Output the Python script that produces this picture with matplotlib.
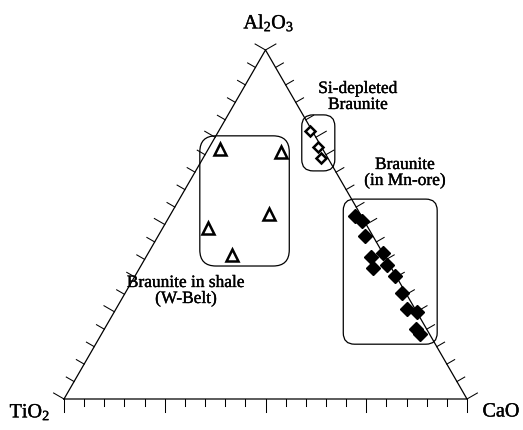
import numpy as np
import matplotlib
matplotlib.use("Agg")
import matplotlib.pyplot as plt
import matplotlib.patheffects as pe
from matplotlib.patches import FancyBboxPatch

plt.rcParams["font.family"] = ["Liberation Serif", "DejaVu Serif"]
plt.rcParams["mathtext.fontset"] = "custom"
plt.rcParams["mathtext.rm"] = "Liberation Serif"
plt.rcParams["mathtext.it"] = "Liberation Serif:italic"

# Compositions (wt% normalised): Al2O3, CaO, TiO2
shale_al2o3 = [71.6, 70.9, 53.0, 48.9, 41.3]
shale_cao = [2.9, 18.4, 24.4, 11.3, 21.0]
shale_tio2 = [25.5, 10.7, 22.6, 39.8, 37.7]

sidep_al2o3 = [76.7, 72.3, 69.0]
sidep_cao = [22.7, 27.0, 29.2]
sidep_tio2 = [0.6, 0.7, 1.8]

ore_al2o3 = [52.5, 51.1, 46.6, 40.6, 41.8, 37.4, 38.4, 35.3, 30.3, 25.8, 24.8, 20.1, 18.6]
ore_cao = [46.0, 48.3, 51.4, 55.8, 58.2, 57.9, 60.9, 64.5, 68.7, 72.3, 75.2, 77.3, 79.0]
ore_tio2 = [1.5, 0.6, 2.0, 3.6, 0.0, 4.7, 0.7, 0.2, 1.0, 1.9, 0.0, 2.6, 2.4]

apex_label = r"Al$_\mathregular{2}$O$_\mathregular{3}$"
left_label = r"TiO$_\mathregular{2}$"
right_label = "CaO"

H = np.sqrt(3) / 2


def to_xy(al, ca, ti):
    al = np.asarray(al, float)
    ca = np.asarray(ca, float)
    ti = np.asarray(ti, float)
    s = al + ca + ti
    a, c = al / s, ca / s
    return c + a / 2, a * H


fig = plt.figure(figsize=(5.23, 4.31), dpi=100)
ax = fig.add_axes([0, 0, 1, 1])
S = 403.0
ax.set_xlim(-64 / S, (523 - 64) / S)
ax.set_ylim(-(431 - 400) / S, 400 / S)
ax.axis("off")

# triangle frame
ax.plot([0, 1, 0.5, 0], [0, 0, H, 0], color="black", lw=0.9, solid_joinstyle="miter")

# ticks every 5 %, longer every 25 %
px = 1 / S
for i in range(21):
    t = i * 0.05
    long = (i % 5 == 0)
    # bottom edge, pointing down
    lb = (13 if long else 7) * px
    ax.plot([t, t], [0, -lb], color="black", lw=0.75)
    le = (12 if long else 9) * px
    # left edge, outward normal
    p = np.array([t / 2, t * H])
    d = np.array([-H, 0.5])
    q = p + d * le
    ax.plot([p[0], q[0]], [p[1], q[1]], color="black", lw=0.75)
    # right edge, outward normal
    p = np.array([1 - t / 2, t * H])
    d = np.array([H, 0.5])
    q = p + d * le
    ax.plot([p[0], q[0]], [p[1], q[1]], color="black", lw=0.75)

# group outlines
def rbox(x0, y0, x1, y1, r):
    ax.add_patch(FancyBboxPatch((x0 + r, y0 + r), x1 - x0 - 2 * r, y1 - y0 - 2 * r,
                                boxstyle=f"round,pad={r}", fc="none", ec="black", lw=0.9))

rbox(0.337, 0.330, 0.559, 0.653, 0.04)
rbox(0.590, 0.566, 0.672, 0.705, 0.028)
rbox(0.693, 0.136, 0.926, 0.496, 0.028)

# data
x, y = to_xy(shale_al2o3, shale_cao, shale_tio2)
ax.plot(x, y, ls="none", marker="^", ms=8.8, mfc="white", mec="black", mew=1.8, zorder=5)
x, y = to_xy(sidep_al2o3, sidep_cao, sidep_tio2)
ax.plot(x, y, ls="none", marker="D", ms=4.8, mfc="white", mec="black", mew=1.8, zorder=5)
x, y = to_xy(ore_al2o3, ore_cao, ore_tio2)
ax.plot(x, y, ls="none", marker="D", ms=7.2, mfc="black", mec="black", mew=1.0, zorder=5)

def P(xp, yp):
    return (xp - 64) / S, (400 - yp) / S

heavy = [pe.withStroke(linewidth=0.25, foreground="black")]

fs_lab = 14.5
ax.text(*P(269, 24), apex_label, fontsize=fs_lab, ha="center", va="center", path_effects=heavy)
ax.text(*P(30, 413), left_label, fontsize=fs_lab, ha="center", va="center", path_effects=heavy)
ax.text(*P(501, 413), right_label, fontsize=fs_lab, ha="center", va="center", path_effects=heavy)

fs = 12.5
ax.text(*P(358, 98), "Si-depleted\nBraunite", fontsize=fs, ha="center", va="center",
        linespacing=1.0, path_effects=heavy)
ax.text(*P(405, 174), "Braunite\n(in Mn-ore)", fontsize=fs, ha="center", va="center",
        linespacing=1.0, path_effects=heavy)
ax.text(*P(186, 292), "Braunite in shale\n(W-Belt)", fontsize=fs, ha="center", va="center",
        linespacing=1.0, path_effects=heavy)

fig.savefig("out.png", dpi=100, facecolor="white")
